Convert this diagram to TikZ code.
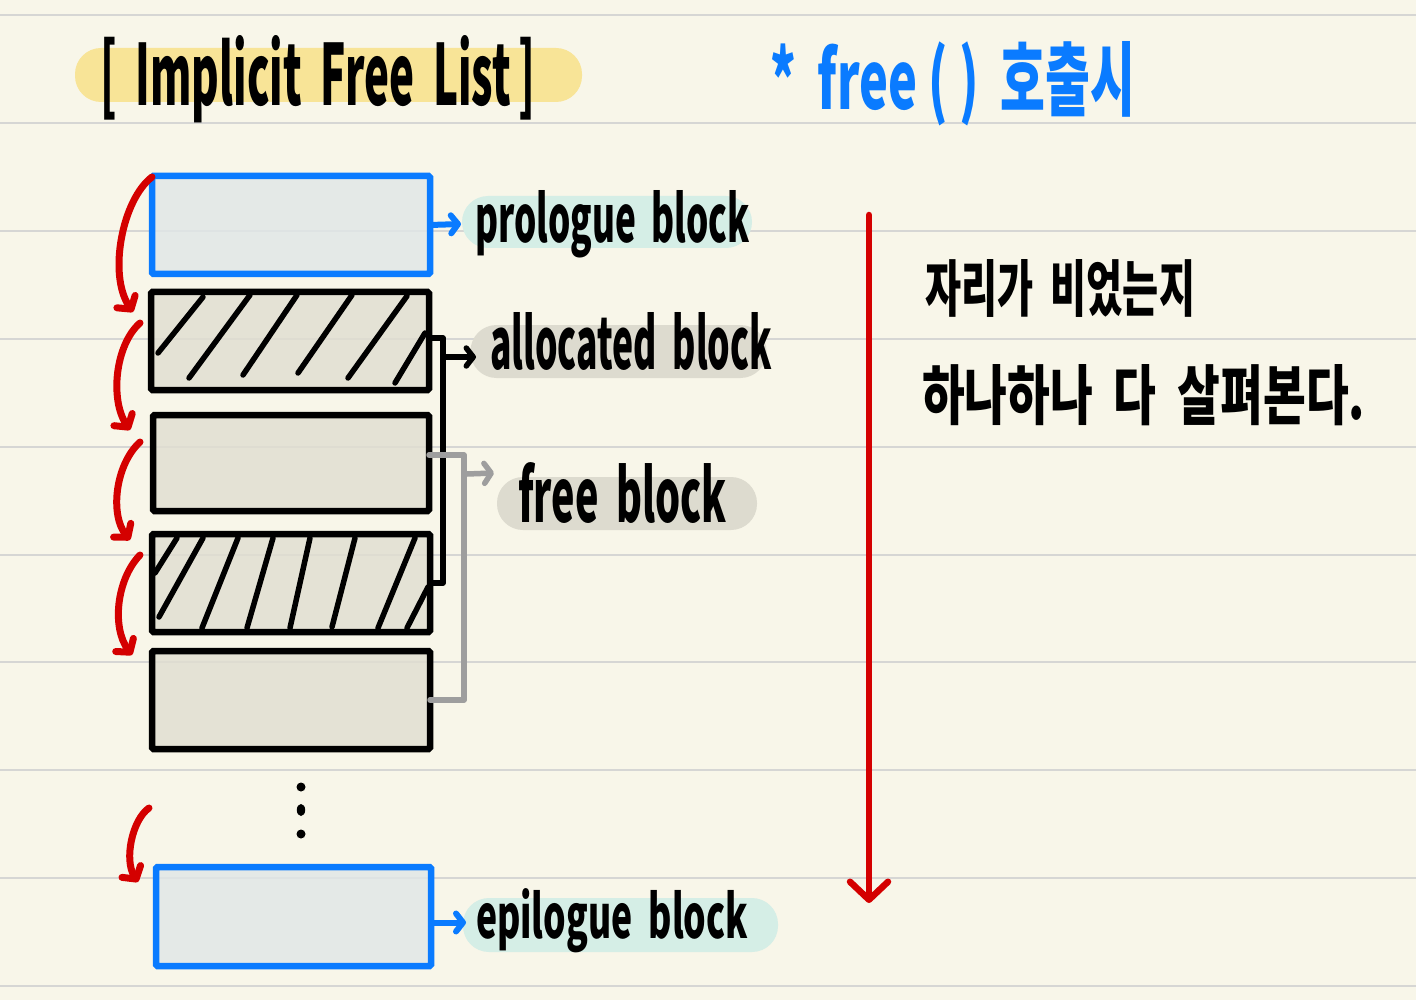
\documentclass[tikz,border=0pt]{standalone}
\usepackage{fontspec}
\usepackage{graphicx}
\newfontfamily\krfont{Noto Sans CJK KR}
\usetikzlibrary{arrows.meta,calc}
\definecolor{paper}{HTML}{F8F6E9}
\definecolor{rulec}{HTML}{D6D6D4}
\definecolor{myblue}{HTML}{0A7BFF}
\definecolor{myred}{HTML}{D40000}
\definecolor{mygray}{HTML}{9E9E9E}
\definecolor{blkfill}{HTML}{E0DED1}
\definecolor{profill}{HTML}{E0E7E7}
\definecolor{yellowhl}{HTML}{F8E497}
\definecolor{tealhl}{HTML}{D5EEE6}
\definecolor{grayhl}{HTML}{DDDBCF}
\newcommand\handtext[3]{\resizebox{#1pt}{#2pt}{\krfont\bfseries #3}}
\newcommand\wsp{\hspace{0.45em}}
\begin{document}
\begin{tikzpicture}[x=1pt,y=-1pt,
  rule/.style={draw=rulec,line width=2pt},
  txt/.style={anchor=base west,inner sep=0pt,outer sep=0pt},
  pill/.style={inner sep=0pt,outer sep=0pt,rounded corners=26pt},
  memblk/.style={draw=black,fill=blkfill,fill opacity=0.82,line width=6.5pt,rounded corners=1.5pt,inner sep=0pt,outer sep=0pt},
  endblk/.style={draw=myblue,fill=profill,fill opacity=0.82,line width=6.5pt,rounded corners=1.5pt,inner sep=0pt,outer sep=0pt},
  hatch/.style={line width=5.5pt,line cap=round},
  redarr/.style={draw=myred,line width=7pt,line cap=round,-{Straight Barb[length=9pt,width=22pt,round]}},
  bluearr/.style={draw=myblue,line width=6pt,line cap=round,-{Straight Barb[length=7pt,width=18pt,round]}},
  brk/.style={line width=5.5pt,line join=round,line cap=round},
]
\useasboundingbox (0,0) rectangle (1416,1000);
\fill[paper] (0,0) rectangle (1416,1000);
\foreach \k in {0,...,9} \draw[rule] (0,{15+107.9*\k}) -- (1416,{15+107.9*\k});

% highlight pills
\node[pill,fill=yellowhl,minimum width=507pt,minimum height=54pt] (ptitle) at (328.5,75) {};
\node[pill,fill=tealhl,minimum width=290pt,minimum height=52pt] (ppro) at (607,222) {};
\node[pill,fill=grayhl,minimum width=296pt,minimum height=53pt] (palloc) at (618.5,351.5) {};
\node[pill,fill=grayhl,minimum width=260pt,minimum height=53pt] (pfree) at (627,503.5) {};
\node[pill,fill=tealhl,minimum width=315pt,minimum height=54pt] (pepi) at (620.5,925) {};

% texts
\node[txt] (title) at (100,106) {\handtext{435}{70}{[\wsp Implicit\wsp Free\wsp List\,]}};
\node[txt,text=myblue] (note) at (770,110) {\handtext{365}{68}{*\wsp free ( )\wsp 호출시}};
\node[txt] (tpro) at (475,243) {\handtext{275}{52}{prologue\wsp block}};
\node[txt] (talloc) at (490,370) {\handtext{282}{57}{allocated\wsp block}};
\node[txt] (tfree) at (518,522) {\handtext{209}{60}{free\wsp block}};
\node[txt] (tepi) at (476,938) {\handtext{272}{50}{epilogue\wsp block}};
\node[txt] (kr1) at (925,311) {\handtext{270}{52}{자리가\wsp 비었는지}};
\node[txt] (kr2) at (922,419) {\handtext{443}{55}{하나하나\wsp 다\wsp 살펴본다.}};

% blocks
\node[endblk,minimum width=278pt,minimum height=98pt] (pro) at (291,225) {};
\node[memblk,minimum width=278pt,minimum height=98pt] (b2) at (290,341) {};
\node[memblk,minimum width=276pt,minimum height=96pt] (b3) at (291,463) {};
\node[memblk,minimum width=278pt,minimum height=98pt] (b4) at (291,583) {};
\node[memblk,minimum width=278pt,minimum height=98pt] (b5) at (291,700) {};
\node[endblk,minimum width=275pt,minimum height=99pt] (epi) at (293.5,916.5) {};

% hatching
\draw[hatch] (158,353)--(203,297) (189,378)--(250,295) (243,375)--(297,295)
  (298,373)--(352,295) (348,378)--(407,296) (395,383)--(425,333);
\draw[hatch] (155,573)--(177,538) (159,617)--(203,538) (202,628)--(238,538)
  (247,628)--(273,538) (290,628)--(310,538) (332,627)--(355,538)
  (378,628)--(415,538) (407,628)--(428,587);

% dots
\fill (301,787) circle (4.5pt);
\fill (301,810) ellipse (4.2pt and 6pt);
\fill (301,834) circle (4.5pt);

% blue arrows to labels
\coordinate (proTip) at (461,224);
\draw[bluearr] (pro.east) -- (proTip);
\coordinate (epiS) at ($(epi.east)+(0,6)$);
\coordinate (epiTip) at (466,922.5);
\draw[bluearr] (epiS) -- (epiTip);

% black bracket for allocated blocks
\draw[brk] ($(b2.east)+(0,-3)$) -- ++(14,0) coordinate (bk) |- (b4.east);
\coordinate (ka) at (443,357);
\coordinate (kb) at (476,357);
\draw[brk,-{Straight Barb[length=7pt,width=18pt,round]}] (ka) -- (kb);

% gray bracket for free blocks
\draw[brk,draw=mygray] ($(b3.east)+(0,-8)$) -- ++(35,0) coordinate (gk) |- (b5.east);
\coordinate (ga) at (467,474);
\coordinate (gb) at (494,473);
\draw[brk,draw=mygray,-{Straight Barb[length=7pt,width=20pt,round]}] (ga) -- (gb);

% red traversal arrows
\coordinate (r1s) at (152,177); \coordinate (r1e) at (133,312);
\coordinate (r2s) at (140,323); \coordinate (r2e) at (130,430);
\coordinate (r3s) at (140,442); \coordinate (r3e) at (130,540);
\coordinate (r4s) at (140,555); \coordinate (r4e) at (132,655);
\coordinate (r5s) at (149,808); \coordinate (r5e) at (138,882);
\draw[redarr] (r1s) .. controls (122,200) and (108,275) .. (r1e);
\draw[redarr] (r2s) .. controls (115,345) and (110,400) .. (r2e);
\draw[redarr] (r3s) .. controls (115,465) and (110,515) .. (r3e);
\draw[redarr] (r4s) .. controls (116,580) and (112,628) .. (r4e);
\draw[redarr] (r5s) .. controls (132,820) and (124,860) .. (r5e);

% long red arrow
\coordinate (la) at (869,215);
\coordinate (lb) at (869,903);
\draw[draw=myred,line width=6.5pt,line cap=round,-{Straight Barb[length=18pt,width=38pt,round]}] (la) -- (lb);
\end{tikzpicture}
\end{document}
